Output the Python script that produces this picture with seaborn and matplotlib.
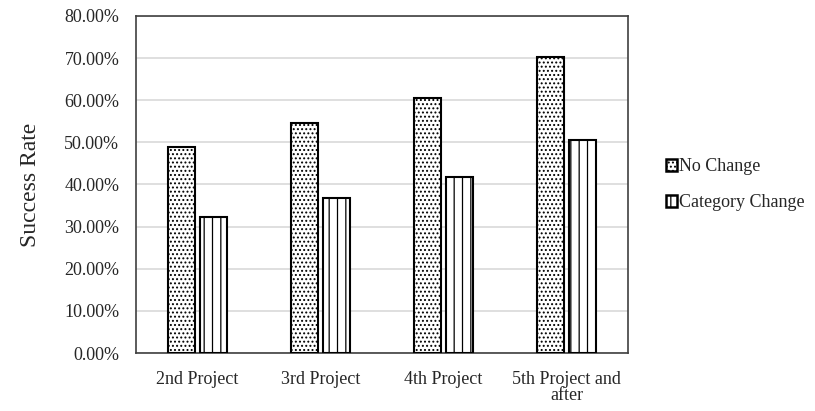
import matplotlib
matplotlib.use("Agg")
import matplotlib.pyplot as plt
import seaborn as sns
import pandas as pd
from matplotlib.ticker import PercentFormatter
from matplotlib.patches import Patch

projects = ["2nd Project", "3rd Project", "4th Project", "5th Project and\nafter"]
no_change = [49.0, 54.7, 60.5, 70.2]
category_change = [32.4, 36.9, 41.8, 50.6]
series = ["No Change", "Category Change"]
hatches = ["....", "||"]

df = pd.DataFrame({
    "Project": projects * 2,
    "Series": [series[0]] * 4 + [series[1]] * 4,
    "Rate": no_change + category_change,
})

sns.set_theme(style="white")
plt.rcParams["font.family"] = ["Liberation Serif", "DejaVu Serif"]
plt.rcParams["hatch.linewidth"] = 0.9

fig = plt.figure(figsize=(8.15, 4.11), dpi=100)
ax = fig.add_axes([0.1669, 0.1411, 0.6037, 0.82])

sns.barplot(data=df, x="Project", y="Rate", hue="Series", hue_order=series,
            palette=["white", "white"], width=0.51, gap=0.13,
            edgecolor="black", linewidth=1.5, legend=False, ax=ax, zorder=3)

for container, h in zip(ax.containers, hatches):
    for bar in container:
        bar.set_hatch(h)
        bar.set_edgecolor("black")

ax.set_ylim(0, 80)
ax.set_yticks(range(0, 81, 10))
ax.yaxis.set_major_formatter(PercentFormatter(decimals=2))
ax.grid(axis="y", color="#d9d9d9", linewidth=1.2, zorder=0)
ax.set_axisbelow(True)
ax.set_xlabel("")
ax.set_ylabel("Success Rate", fontsize=17, labelpad=17)
ax.tick_params(axis="y", labelsize=13, length=0, pad=12)
ax.tick_params(axis="x", labelsize=13, length=0, pad=13)
for lab in ax.get_xticklabels():
    lab.set_linespacing(0.95)
for s in ax.spines.values():
    s.set_color("#404040")
    s.set_linewidth(1.2)

handles = [Patch(facecolor="white", edgecolor="black", hatch=h, linewidth=1.8, label=lab)
           for h, lab in zip(hatches, series)]
fig.legend(handles=handles, loc="center left", bbox_to_anchor=(0.797, 0.55),
           frameon=False, fontsize=13, handlelength=0.6, handleheight=0.6,
           handletextpad=0.15, labelspacing=1.05)

fig.savefig("out.png", dpi=100)
